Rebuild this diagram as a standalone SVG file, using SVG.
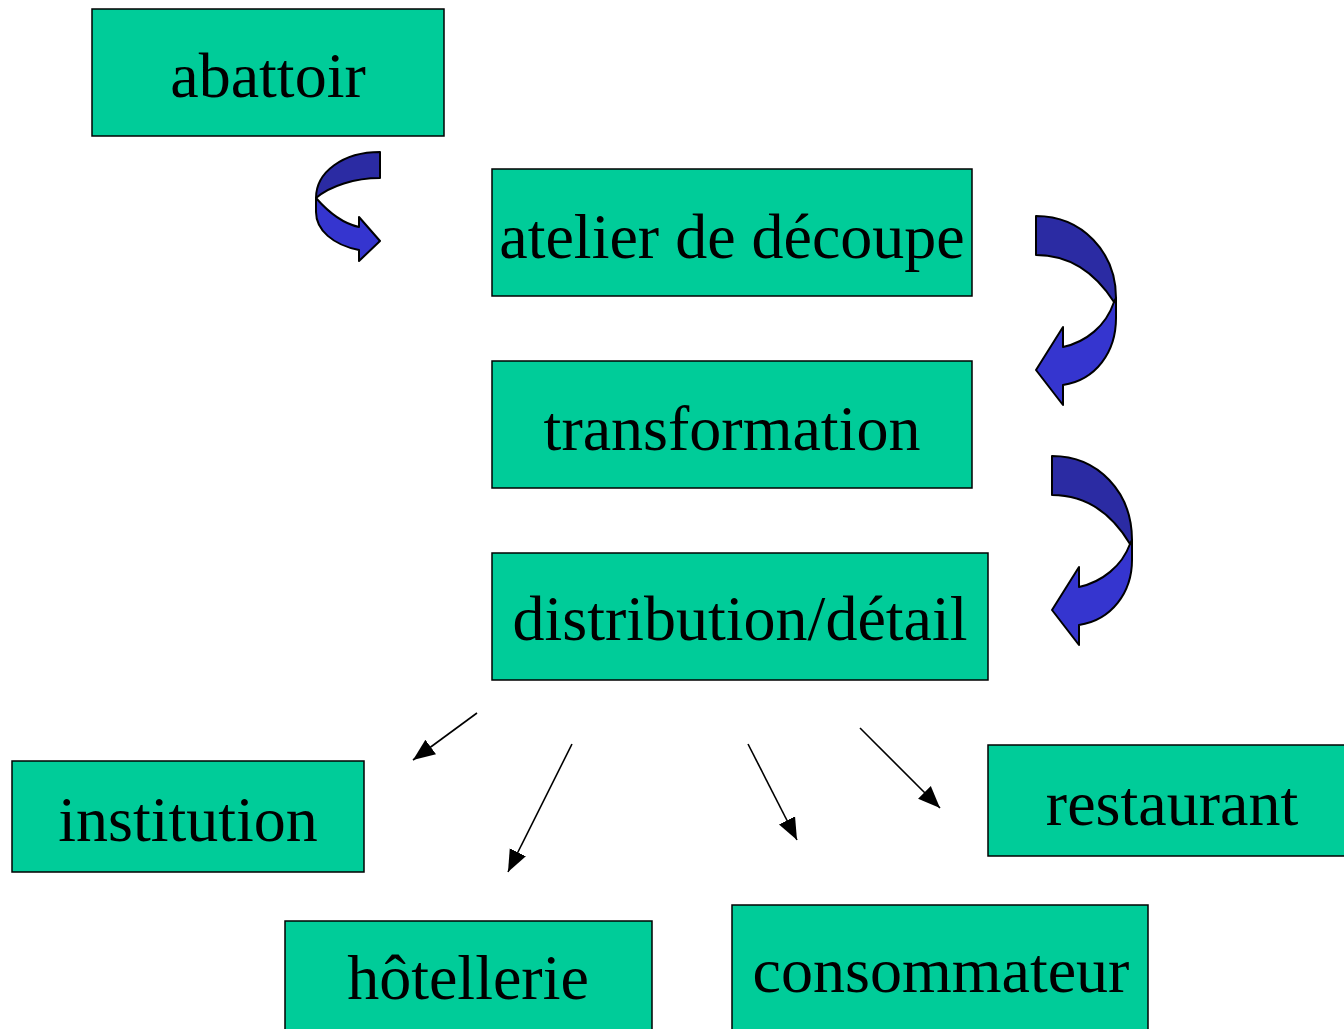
<svg xmlns="http://www.w3.org/2000/svg" width="1344" height="1029" viewBox="0 0 1344 1029">
<style>
.box{fill:#00CC99;stroke:#000;stroke-width:1.5}
.lbl{font-family:"Liberation Serif","Times New Roman",serif;font-size:64px;fill:#000;text-anchor:middle}
.dk{fill:#2B2BA3;stroke:#000;stroke-width:2;stroke-linejoin:round}
.lt{fill:#3535CF;stroke:#000;stroke-width:2;stroke-linejoin:round}
.ln{stroke:#000;stroke-width:1.6;fill:none;marker-end:url(#ah)}
</style>
<defs>
<marker id="ah" markerUnits="userSpaceOnUse" markerWidth="24" markerHeight="20" refX="22" refY="9" orient="auto" viewBox="0 0 24 18">
<path d="M0,0 L22,9 L0,18 Z" fill="#000"/>
</marker>
</defs>
<rect width="1344" height="1029" fill="#fff"/>
<g id="abattoir"><rect class="box" x="92" y="9" width="352" height="127"/><text class="lbl" x="268" y="97">abattoir</text></g>
<g id="atelier"><rect class="box" x="492" y="169" width="480" height="127"/><text class="lbl" x="732" y="258">atelier de découpe</text></g>
<g id="transformation"><rect class="box" x="492" y="361" width="480" height="127"/><text class="lbl" x="732" y="450">transformation</text></g>
<g id="distribution"><rect class="box" x="492" y="553" width="496" height="127"/><text class="lbl" x="740" y="640">distribution/détail</text></g>
<g id="institution"><rect class="box" x="12" y="761" width="352" height="111"/><text class="lbl" x="188" y="841">institution</text></g>
<g id="restaurant"><rect class="box" x="988" y="745" width="370" height="111"/><text class="lbl" x="1172" y="825">restaurant</text></g>
<g id="hotellerie"><rect class="box" x="285" y="921" width="367" height="120"/><text class="lbl" x="468" y="999">hôtellerie</text></g>
<g id="consommateur"><rect class="box" x="732" y="905" width="416" height="135"/><text class="lbl" x="941" y="992">consommateur</text></g>
<g id="connectors">
<g id="curved1">
<path class="lt" d="M316,198 C330,214 345,224 359,227 L359,217 L380,241 L359,261 L359,250 C333,245 316,230 316,212 Z"/>
<path class="dk" d="M380,152 C343,152 316,172 316,198 C330,186 355,178 380,178 Z"/>
</g>
<g id="curved2">
<path class="lt" d="M1114,302 C1106,326 1086,342 1063,347 L1063,327 L1036,370 L1063,405 L1063,385 C1096,380 1116,352 1116,318 L1116,298 Z"/>
<path class="dk" d="M1036,216 C1082,216 1116,252 1116,298 L1114,302 C1096,274 1070,255 1036,255 Z"/>
</g>
<g id="curved3">
<path class="lt" d="M1130,544 C1122,566 1102,582 1079,587 L1079,567 L1052,610 L1079,645 L1079,625 C1112,620 1132,592 1132,560 L1132,540 Z"/>
<path class="dk" d="M1052,456 C1098,456 1132,492 1132,540 L1130,544 C1112,514 1086,495 1052,495 Z"/>
</g>
<line class="ln" x1="477" y1="713" x2="413" y2="760"/>
<line class="ln" x1="572" y1="744" x2="508" y2="872"/>
<line class="ln" x1="748" y1="744" x2="797" y2="840"/>
<line class="ln" x1="860" y1="728" x2="940" y2="808"/>
</g>
</svg>
